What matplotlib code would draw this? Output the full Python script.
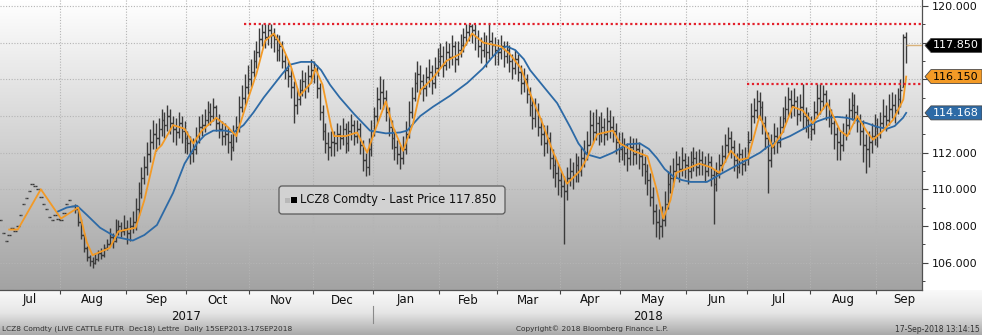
import numpy as np
import pandas as pd
import matplotlib
matplotlib.use("Agg")
import matplotlib.pyplot as plt
from matplotlib.colors import LinearSegmentedColormap
from matplotlib.patches import Polygon, FancyBboxPatch, Rectangle
from matplotlib.transforms import IdentityTransform, blended_transform_factory


# LCZ8 daily bars, 3 Jul 2017 - 17 Sep 2018 (one row per month)
close = [
    108.3, 107.6, 107.2, 107.5, 107.9, 107.7, 108.0, 108.6, 109.2, 109.5, 109.9, 110.3, 110.2, 110.0, 109.6, 109.2, 108.9, 108.5, 108.3, 108.6, 108.4,
    108.3, 108.7, 109.2, 109.4, 109.1, 108.9, 108.2, 107.5, 106.8, 106.3, 106.1, 106.0, 106.2, 106.5, 106.4, 106.8, 107.0, 107.4, 107.2, 107.8, 108.0, 107.7, 107.9,
    107.6, 108.0, 108.2, 108.9, 109.8, 110.6, 111.2, 111.9, 112.6, 113.0, 112.8, 113.3, 113.8, 113.5, 114.0, 113.6, 113.3, 113.1, 113.6, 113.2, 112.8,
    112.5, 112.0, 112.2, 112.9, 113.4, 113.5, 113.8, 114.2, 114.0, 114.5, 113.6, 113.3, 112.9, 113.0, 112.6, 112.3, 113.0, 113.4, 114.5, 115.0, 115.6, 116.0,
    116.4, 117.0, 117.5, 118.2, 118.6, 118.3, 118.7, 118.4, 118.2, 117.6, 117.8, 117.0, 116.5, 116.2, 115.6, 114.6, 114.9, 115.4, 115.9, 115.6, 116.2, 116.5,
    116.5, 115.5, 114.2, 113.2, 112.5, 112.3, 112.6, 112.5, 113.0, 112.8, 113.3, 112.5, 113.2, 113.5, 112.9, 113.3, 112.4, 111.6, 111.2, 112.2, 113.2,
    114.0, 114.9, 115.3, 115.0, 114.2, 113.4, 112.8, 112.3, 111.9, 111.7, 112.2, 113.0, 114.2, 115.0, 115.8, 116.3, 115.9, 115.5, 116.1, 116.4, 115.8, 116.6, 117.0,
    117.3, 116.8, 117.5, 117.2, 117.8, 117.1, 117.6, 117.9, 118.3, 118.6, 118.9, 118.7, 118.3, 117.8, 117.6, 118.0, 117.5, 118.1, 117.9, 117.6,
    117.5, 117.8, 117.3, 117.6, 117.0, 116.6, 117.1, 116.4, 115.8, 116.0, 115.2, 114.6, 113.9, 114.3, 113.4, 113.0, 112.5, 112.8, 111.7, 111.3, 110.9, 110.5,
    110.2, 109.9, 110.6, 111.0, 110.8, 111.3, 111.0, 111.7, 112.0, 112.4, 113.5, 113.1, 113.6, 113.0, 113.4, 113.0, 113.7, 113.4, 113.2, 112.6, 112.2,
    112.4, 112.0, 111.7, 112.3, 111.9, 112.2, 111.8, 111.4, 111.0, 110.5, 109.6, 108.8, 108.2, 108.0, 108.3, 109.2, 110.3, 110.6, 111.0, 111.4, 111.1, 111.6, 111.3,
    111.0, 111.5, 111.7, 111.2, 111.6, 111.4, 111.0, 111.5, 110.8, 110.3, 110.9, 111.3, 111.8, 112.4, 112.8, 112.3, 111.6, 111.2, 111.9, 111.4, 111.7,
    112.6, 114.0, 114.3, 114.8, 114.5, 113.6, 112.8, 111.6, 112.3, 112.9, 112.6, 113.4, 113.9, 114.4, 114.9, 114.6, 114.8, 114.1, 114.5, 114.0, 113.8, 113.5,
    113.3, 114.2, 115.0, 114.8, 115.2, 114.6, 114.0, 113.6, 113.0, 112.6, 112.4, 113.0, 113.5, 114.3, 114.6, 114.2, 113.7, 113.2, 112.4, 112.2, 112.6, 112.9, 113.4,
    113.0, 113.6, 114.0, 113.8, 114.4, 114.6, 114.3, 114.9, 115.4, 118.3, 117.85,
]
high = [
    108.3, 107.6, 107.2, 107.5, 107.9, 107.7, 108.0, 108.6, 109.2, 109.5, 109.9, 110.3, 110.2, 110.0, 109.6, 109.2, 108.9, 108.5, 108.3, 108.6, 108.4,
    108.3, 108.7, 109.2, 109.4, 109.1, 109.2, 108.9, 108.4, 107.6, 106.9, 106.4, 106.3, 106.5, 106.7, 106.8, 107.0, 107.3, 107.9, 107.6, 108.4, 108.3, 108.2, 108.6,
    108.3, 108.5, 108.8, 109.5, 110.4, 111.2, 111.8, 112.6, 113.3, 113.8, 113.6, 113.9, 114.4, 114.2, 114.6, 114.4, 114.0, 113.9, 114.2, 114.0, 113.7,
    113.2, 112.9, 112.8, 113.4, 114.0, 114.1, 114.4, 114.8, 114.7, 115.0, 114.6, 114.1, 113.7, 113.6, 113.4, 113.0, 113.5, 114.0, 115.1, 115.7, 116.3, 116.8,
    117.1, 117.6, 118.1, 118.8, 119.0, 119.0, 119.0, 119.0, 118.8, 118.5, 118.4, 118.1, 117.4, 117.0, 116.6, 115.9, 115.5, 116.0, 116.5, 116.4, 116.8, 117.1,
    117.0, 116.8, 115.8, 114.6, 113.6, 113.1, 113.2, 113.2, 113.6, 113.5, 113.9, 113.6, 113.7, 114.1, 113.8, 113.8, 113.6, 112.7, 112.0, 112.8, 113.8,
    114.5, 115.6, 116.2, 116.0, 115.4, 114.5, 113.8, 113.3, 112.7, 112.4, 112.9, 113.7, 114.8, 115.6, 116.4, 117.0, 116.8, 116.3, 116.7, 117.1, 116.8, 117.2, 117.7,
    118.0, 117.8, 118.1, 118.0, 118.4, 118.1, 118.1, 118.5, 118.8, 119.0, 119.0, 119.0, 119.0, 118.7, 118.3, 118.6, 118.4, 119.0, 118.6, 118.3,
    118.2, 118.4, 118.1, 118.1, 117.9, 117.4, 117.6, 117.4, 116.8, 116.6, 116.3, 115.6, 115.0, 115.0, 114.7, 113.9, 113.5, 113.5, 113.1, 112.2, 111.8, 111.4,
    111.0, 110.7, 111.2, 111.7, 111.5, 112.0, 111.8, 112.3, 112.7, 113.2, 114.3, 114.2, 114.4, 114.0, 114.2, 113.9, 114.5, 114.3, 114.0, 113.6, 113.1,
    113.1, 112.8, 112.5, 112.9, 112.8, 112.8, 112.6, 112.2, 111.8, 111.4, 110.9, 110.1, 109.2, 108.9, 109.1, 109.9, 111.0, 111.3, 111.7, 112.1, 111.8, 112.3, 112.0,
    111.8, 112.1, 112.3, 112.1, 112.2, 112.1, 111.8, 112.0, 111.8, 111.1, 111.5, 111.9, 112.4, 113.0, 113.4, 113.2, 112.7, 112.0, 112.5, 112.2, 112.3,
    113.2, 114.7, 115.0, 115.4, 115.3, 114.8, 114.0, 113.1, 113.0, 113.6, 113.4, 114.0, 114.5, 115.1, 115.6, 115.4, 115.5, 115.1, 115.2, 115.75, 114.5, 114.2,
    114.0, 114.8, 115.75, 115.75, 115.7, 115.4, 114.9, 114.4, 113.8, 113.4, 113.2, 113.6, 114.1, 115.0, 115.3, 115.2, 114.6, 114.1, 113.8, 113.0, 113.2, 113.6, 114.1,
    113.9, 114.2, 114.9, 114.6, 115.2, 115.3, 115.2, 115.5, 116.0, 118.5, 118.6,
]
low = [
    108.3, 107.6, 107.2, 107.5, 107.9, 107.7, 108.0, 108.6, 109.2, 109.5, 109.9, 110.3, 110.2, 110.0, 109.6, 109.2, 108.9, 108.5, 108.3, 108.6, 108.4,
    108.3, 108.7, 109.2, 109.4, 109.1, 108.7, 108.0, 107.3, 106.6, 106.1, 105.8, 105.7, 105.9, 106.1, 106.2, 106.3, 106.7, 106.9, 106.8, 107.1, 107.5, 107.4, 107.5,
    107.0, 107.2, 107.6, 107.8, 108.6, 109.5, 110.3, 110.8, 111.5, 112.2, 112.1, 112.4, 112.9, 112.8, 113.2, 113.0, 112.6, 112.4, 112.8, 112.5, 112.0,
    111.9, 111.4, 111.5, 111.9, 112.5, 112.9, 113.1, 113.5, 113.5, 113.7, 113.2, 112.8, 112.4, 112.4, 112.0, 111.6, 112.1, 112.6, 113.1, 114.2, 114.6, 115.2,
    115.6, 116.1, 116.6, 117.2, 117.8, 117.7, 117.9, 117.7, 117.5, 117.0, 117.0, 116.6, 116.0, 115.6, 115.0, 113.6, 114.1, 114.6, 115.1, 115.0, 115.3, 115.8,
    115.8, 115.0, 113.8, 112.7, 112.0, 111.6, 111.8, 111.8, 112.1, 112.2, 112.4, 112.0, 112.1, 112.7, 112.4, 112.5, 111.9, 111.0, 110.7, 110.8, 111.8,
    112.9, 113.6, 114.4, 114.4, 113.7, 112.9, 112.2, 111.6, 111.4, 111.1, 111.4, 111.9, 112.8, 113.9, 114.8, 115.3, 115.2, 114.8, 115.1, 115.6, 115.2, 115.5, 116.2,
    116.6, 116.1, 116.5, 116.6, 116.8, 116.4, 116.8, 117.2, 117.5, 117.9, 118.1, 118.0, 117.6, 117.2, 116.9, 117.2, 116.7, 117.1, 117.3, 116.8,
    116.8, 117.1, 116.7, 116.9, 116.4, 116.0, 116.3, 115.9, 115.2, 115.3, 114.7, 114.0, 113.3, 113.4, 112.9, 112.4, 111.8, 112.0, 111.1, 110.6, 110.1, 109.7,
    109.6, 107.0, 109.4, 110.2, 110.0, 110.4, 110.4, 110.7, 111.2, 111.6, 112.4, 112.5, 112.7, 112.4, 112.6, 112.4, 112.7, 112.8, 112.6, 111.9, 111.5,
    111.6, 111.3, 111.0, 111.3, 111.3, 111.4, 111.1, 110.7, 110.3, 109.7, 109.1, 108.1, 107.4, 107.3, 107.4, 108.0, 108.9, 109.8, 110.1, 110.6, 110.4, 110.7, 110.6,
    110.3, 110.6, 111.0, 110.7, 110.8, 110.8, 110.4, 110.7, 110.2, 108.1, 109.9, 110.6, 111.0, 111.5, 112.0, 111.7, 111.0, 110.6, 110.9, 110.8, 111.0,
    111.3, 112.7, 113.6, 113.9, 113.8, 113.0, 112.2, 109.8, 111.2, 111.9, 112.0, 112.3, 113.1, 113.6, 114.0, 113.9, 114.0, 113.5, 113.7, 113.3, 113.1, 112.8,
    112.7, 113.0, 113.9, 114.1, 114.4, 113.8, 113.4, 113.0, 112.2, 111.6, 111.6, 112.1, 112.7, 113.0, 113.8, 113.6, 113.1, 112.4, 111.5, 110.9, 111.2, 112.0, 112.4,
    112.3, 112.8, 113.3, 113.2, 113.5, 113.9, 113.6, 114.1, 114.5, 115.6, 116.9,
]

# moving averages read at (trading-day index, value)
fast_x = [3, 6, 14, 21, 27, 30, 32, 38, 41, 47, 50, 54, 56, 60, 64, 67, 70, 75, 79, 82,
          86, 89, 92, 95, 98, 101, 104, 108, 109.5, 112, 115, 116, 120, 124, 127.5, 130, 134, 136.5, 140, 143.5,
          146, 150, 155, 160, 164, 168, 171, 174, 177, 181, 185, 188, 192, 197, 201.5, 204, 207.5, 213, 215.5, 220,
          225, 228, 230.5, 233, 235, 240, 243, 247, 250, 254, 257, 260, 264, 266.5, 268.5, 272, 275.5, 279, 282.5, 287.5,
          292, 294.5, 298, 301.5, 303.5, 307, 310.5, 314, 315]
fast_ma = [107.8, 107.8, 110.0, 108.4, 109.0, 107.1, 106.4, 106.8, 107.7, 107.9, 109.4, 112.1, 112.4, 113.5, 113.3, 112.5, 113.2, 113.9, 113.4, 112.9,
           114.9, 116.3, 118.1, 118.5, 117.8, 116.7, 115.1, 115.8, 116.6, 115.7, 113.4, 112.9, 112.9, 113.1, 112.0, 113.1, 114.8, 113.4, 112.1, 113.6,
           115.4, 116.0, 117.0, 117.4, 118.5, 118.0, 117.9, 117.8, 117.4, 116.6, 114.9, 113.8, 112.1, 110.3, 111.0, 111.7, 113.0, 113.2, 112.5, 112.1,
           111.8, 110.1, 108.4, 109.4, 110.9, 111.2, 111.4, 111.2, 110.9, 112.1, 111.6, 111.7, 114.0, 113.1, 112.3, 113.1, 114.5, 114.3, 113.6, 114.7,
           113.2, 112.9, 114.0, 113.1, 112.7, 113.2, 113.8, 114.9, 116.15]

slow_x = [19.6, 23, 26.6, 30, 34.6, 40, 46, 50, 54.4, 60, 64, 68.3, 71, 74, 78, 81, 84.5, 88, 91.5, 95,
          98, 100.7, 104.5, 108.7, 111.5, 114.6, 118, 123, 128.5, 134, 139, 141.4, 146,
          150.4, 156.3, 162.3, 167.8, 171, 173.7, 176, 179, 182, 184.2, 189.4, 193.6, 198.1, 201, 204, 208.5, 213, 218, 222.4, 225.5, 228.3, 231, 234, 237, 240, 245.7,
          251.3, 257.2, 264.2, 266.6, 270, 274.6, 280.5, 284, 287.5, 291, 294.4, 298, 301.4, 305, 308.3, 311, 313.9, 315]
slow_ma = [108.76, 109.0, 109.1, 108.6, 107.9, 107.4, 107.2, 107.5, 108.05, 109.8, 111.4, 112.5, 112.95, 113.2, 113.2, 113.1, 113.5, 114.2, 115.0, 115.7,
           116.3, 116.8, 116.95, 116.95, 116.5, 115.7, 115.0, 114.1, 113.2, 113.05, 113.1, 113.2, 114.0,
           114.5, 115.1, 115.8, 116.6, 117.2, 117.65, 117.8, 117.6, 117.1, 116.5, 115.5, 114.7, 113.4, 112.5, 111.9, 111.7, 112.0, 112.45, 112.5, 112.2, 111.7, 111.1, 110.7, 110.5, 110.4, 110.4,
           110.9, 111.4, 112.0, 112.3, 112.6, 112.9, 113.4, 113.7, 113.9, 113.95, 113.9, 113.75, 113.6, 113.4, 113.3, 113.45, 113.9, 114.168]

# dotted resistance levels and the day they start from
res_levels = [119.0, 115.75]
res_start = [84.5, 259.6]

month_names = ["Jan", "Feb", "Mar", "Apr", "May", "Jun", "Jul", "Aug", "Sep", "Oct", "Nov", "Dec"]

W, H = 982, 335
fig = plt.figure(figsize=(W / 100, H / 100), dpi=100)
fig.patch.set_facecolor("white")

strip_h = 45 / H
ax = fig.add_axes([0, strip_h, 922 / W, 1 - strip_h])
strip = fig.add_axes([0, 0, 1, strip_h])
ax.set_zorder(2)
strip.set_zorder(1)

# background gradients
grad = np.linspace(0, 1, 256).reshape(-1, 1)
bg = LinearSegmentedColormap.from_list("bg", ["#ffffff", "#a3a3a3"])
ax.imshow(grad, cmap=bg, extent=(0, 1, 0, 1), transform=ax.transAxes,
          aspect="auto", origin="upper", zorder=-5)
ax.patch.set_visible(False)
sb = LinearSegmentedColormap.from_list("sb", ["#fafafa", "#e6e6e6", "#a9a9a9"])
strip.imshow(grad, cmap=sb, extent=(0, 1, 0, 1), aspect="auto", origin="upper")
strip.set_xlim(0, 1)
strip.set_ylim(0, 1)
strip.axis("off")

n = len(close)
x = np.arange(n)
c = np.array(close)
hi = np.array(high)
lo = np.array(low)
op = np.clip(np.r_[c[0], c[:-1]], lo, hi)

bar_col = "#3a3a3a"
ax.vlines(x, lo, hi, color=bar_col, lw=1.0, zorder=2)
ax.hlines(op, x - 0.6, x, color=bar_col, lw=1.0, zorder=2)
ax.hlines(c, x, x + 0.6, color=bar_col, lw=1.0, zorder=2)

ax.plot(slow_x, slow_ma, color="#2d6aa6", lw=1.3, zorder=3, solid_joinstyle="round")
ax.plot(fast_x, fast_ma, color="#f39a26", lw=1.3, zorder=4, solid_joinstyle="round")

x_max = 320.5
for lvl, x0 in zip(res_levels, res_start):
    ax.hlines(lvl, x0, x_max, color="#e3202b", lw=1.6, linestyles=(0, (1, 1.2)), zorder=5)

# last price line out to the axis
ax.hlines(c[-1], n - 1, x_max, color="#d9b27a", lw=1.0, zorder=4)

ax.set_xlim(-0.2, x_max)
ax.set_ylim(104.5, 120.33)

# month boundaries on a trading-day axis
days = pd.bdate_range("2017-07-03", "2018-10-31")
starts = [i for i in range(len(days)) if i == 0 or days[i].month != days[i - 1].month]
ax.set_xticks([s - 0.5 for s in starts if 0 < s < x_max])
ax.set_xticklabels([])
ax.tick_params(axis="x", direction="out", length=3, color="#444444", width=0.8)
ax.grid(axis="x", color="#b4b4b4", lw=0.8, linestyle=(0, (1, 1.5)), zorder=0.5)

yt = np.arange(106, 121, 2)
ax.set_yticks(yt)
ax.set_yticklabels([f"{v:.3f}" if v not in (114, 116, 118) else "" for v in yt])
ax.set_yticks(np.arange(105, 121, 2), minor=True)
ax.yaxis.tick_right()
ax.tick_params(axis="y", which="major", direction="out", length=4, color="#444444",
               width=0.8, labelsize=8, pad=3, labelcolor="#111111")
ax.tick_params(axis="y", which="minor", direction="out", length=2, color="#444444", width=0.7)
ax.grid(axis="y", which="major", color="#b4b4b4", lw=0.8, linestyle=(0, (1, 1.5)), zorder=0.5)

for side in ("top", "left"):
    ax.spines[side].set_visible(False)
for side in ("right", "bottom"):
    ax.spines[side].set_color("#505050")
    ax.spines[side].set_linewidth(0.9)

# month and year labels under the plot
lab_tr = blended_transform_factory(ax.transData, fig.transFigure)
for k in range(len(starts) - 1):
    s, e = starts[k], starts[k + 1]
    if s >= n:
        break
    ax.text((s + e) / 2 - 0.5, (H - 300) / H, month_names[days[s].month - 1], transform=lab_tr,
            ha="center", va="center", fontsize=8.5, color="#111111", clip_on=False)
jan = starts[6]
ax.text((0 + jan) / 2 - 0.5, (H - 316) / H, "2017", transform=lab_tr, ha="center", va="center",
        fontsize=8.5, color="#111111", clip_on=False)
ax.text((jan + x_max) / 2, (H - 316) / H, "2018", transform=lab_tr, ha="center", va="center",
        fontsize=8.5, color="#111111", clip_on=False)
ax.plot([jan - 0.5, jan - 0.5], [(H - 306) / H, (H - 323) / H], transform=lab_tr,
        color="#8a8a8a", lw=0.8, clip_on=False)

fig.text(2 / W, (H - 329) / H, "LCZ8 Comdty (LIVE CATTLE FUTR  Dec18) Lettre  Daily 15SEP2013-17SEP2018",
         fontsize=5.3, color="#333333", va="center", ha="left")
fig.text(592 / W, (H - 329) / H, "Copyright\u00a9 2018 Bloomberg Finance L.P.",
         fontsize=5.3, color="#333333", va="center", ha="center")
fig.text(980 / W, (H - 329) / H, "17-Sep-2018 13:14:15",
         fontsize=5.5, color="#333333", va="center", ha="right")

# legend box
fig.add_artist(FancyBboxPatch((281, H - 212), 222, 24, boxstyle="round,pad=2,rounding_size=3",
                              transform=IdentityTransform(), facecolor="#d2d2d2",
                              edgecolor="#5a5a5a", lw=0.9, zorder=10))
fig.add_artist(Rectangle((285, H - 203), 5, 5, transform=IdentityTransform(),
                         facecolor="#b8b8b8", edgecolor="none", zorder=11))
fig.add_artist(Rectangle((291, H - 203), 6, 6, transform=IdentityTransform(),
                         facecolor="#000000", edgecolor="none", zorder=11))
fig.text(300 / W, (H - 200) / H, f"LCZ8 Comdty - Last Price {c[-1]:.3f}",
         fontsize=8.3, color="#111111", va="center", ha="left", zorder=12)

# value tags on the price axis
def value_tag(v, face, fg):
    yd = ax.transData.transform((0, v))[1]
    pts = [(925, yd), (931, yd + 7), (982, yd + 7), (982, yd - 7), (931, yd - 7)]
    fig.add_artist(Polygon(pts, closed=True, transform=IdentityTransform(),
                           facecolor=face, edgecolor="#4a4a4a", lw=0.6, zorder=10))
    fig.text(956 / W, yd / H, f"{v:.3f}", fontsize=8, color=fg, va="center", ha="center", zorder=11)


value_tag(c[-1], "#000000", "white")
value_tag(fast_ma[-1], "#f39a26", "black")
value_tag(slow_ma[-1], "#2d6aa6", "white")

fig.savefig("out.png", dpi=100)
